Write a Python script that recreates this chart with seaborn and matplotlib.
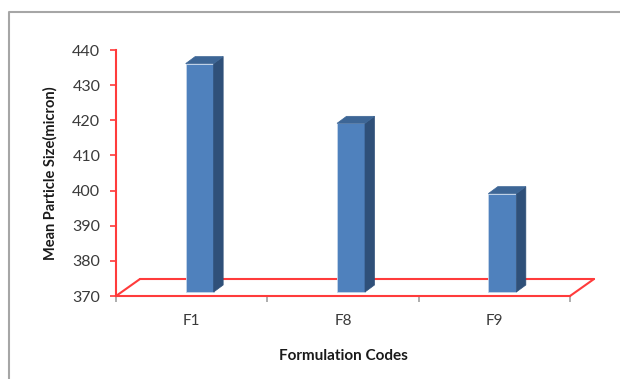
import numpy as np
import pandas as pd
import matplotlib
matplotlib.use("Agg")
import matplotlib.pyplot as plt
import matplotlib.transforms as mtransforms
from matplotlib.patches import Polygon
from matplotlib.lines import Line2D
import seaborn as sns

categories = ["F1", "F8", "F9"]
mean_size = [435, 418, 398]
y_ticks = [370, 380, 390, 400, 410, 420, 430, 440]
x_label = "Formulation Codes"
y_label = "Mean Particle Size(micron)"

sns.set_theme(style="white")
plt.rcParams['font.family'] = ['Lato', 'DejaVu Sans']

RED = "#FF3B3B"
FRONT = "#4F81BD"
SIDE = "#2F5079"
TOP = "#3D6696"
TXT = "#3a3a3a"

fig = plt.figure(figsize=(6.2, 3.79), dpi=100)
fig.patch.set_facecolor("white")
ax = fig.add_axes([116/620, 83/379, 454/620, 246/379])
ax.set_facecolor("white")

df = pd.DataFrame({"code": categories, "size": mean_size})
sns.barplot(data=df, x="code", y="size", ax=ax, width=0.185, color=FRONT,
            saturation=1, edgecolor="#C5D5EA", linewidth=0.6, zorder=3)

base = y_ticks[0]
ax.set_ylim(y_ticks[0], y_ticks[-1])
ax.set_xlim(-0.5, len(categories) - 0.5)
ax.set_yticks(y_ticks)
ax.set_xticks(range(len(categories)))
ax.set_xticklabels(categories)
ax.set_xticks(np.arange(-0.5, len(categories), 1.0), minor=True)
ax.grid(False)

# floor (3D base)
fdx, fdy = 24, 17
x0d, yd = ax.transData.transform((-0.5, base))
x1d, _ = ax.transData.transform((len(categories) - 0.5, base))
ident = mtransforms.IdentityTransform()
floor_lines = [
    ([x0d, x0d + fdx], [yd, yd + fdy]),
    ([x0d + fdx, x1d + fdx], [yd + fdy, yd + fdy]),
    ([x1d, x1d + fdx], [yd, yd + fdy]),
]
for xs, ys in floor_lines:
    ax.add_line(Line2D(xs, ys, color=RED, lw=1.5, transform=ident,
                       clip_on=False, zorder=1))

# bars: front faces shifted into the floor, plus side and top faces
bdx, bdy = 8, 4
ddx, ddy = 9.5, 7
off = mtransforms.offset_copy(ax.transData, fig=fig, x=bdx, y=bdy, units='dots')
for p in list(ax.patches):
    bx = p.get_x()
    bw = p.get_width()
    val = p.get_height()
    p.set_y(base)
    p.set_height(val - base)
    p.set_transform(off)
    p.set_clip_on(False)
    p.set_zorder(3)
    X0, Yb = ax.transData.transform((bx, base))
    X1, Yt = ax.transData.transform((bx + bw, val))
    X0 += bdx; X1 += bdx; Yb += bdy; Yt += bdy
    side = Polygon([(X1, Yb), (X1 + ddx, Yb + ddy), (X1 + ddx, Yt + ddy), (X1, Yt)],
                   closed=True, facecolor=SIDE, edgecolor=SIDE, lw=0.5,
                   transform=ident, clip_on=False, zorder=4)
    top = Polygon([(X0, Yt), (X0 + ddx, Yt + ddy), (X1 + ddx, Yt + ddy), (X1, Yt)],
                  closed=True, facecolor=TOP, edgecolor=TOP, lw=0.5,
                  transform=ident, clip_on=False, zorder=4)
    ax.add_patch(side)
    ax.add_patch(top)

# spines and ticks
for s in ["top", "right"]:
    ax.spines[s].set_visible(False)
ax.spines["left"].set_color(RED)
ax.spines["bottom"].set_color(RED)
ax.spines["left"].set_linewidth(1.5)
ax.spines["bottom"].set_linewidth(1.5)
ax.spines["left"].set_zorder(2)
ax.spines["bottom"].set_zorder(2)

ax.tick_params(axis="y", which="major", left=True, length=4.3, width=1.2,
               color=RED, pad=7, labelsize=11.5, labelcolor=TXT)
ax.tick_params(axis="x", which="major", bottom=False, length=0, pad=13,
               labelsize=11, labelcolor=TXT)
ax.tick_params(axis="x", which="minor", bottom=True, length=4, width=1.2,
               color="#A0A0A0")

ax.set_xlabel(x_label, fontsize=11, fontweight="bold", color="#1a1a1a")
ax.set_ylabel(y_label, fontsize=10.5, fontweight="bold", color="#1a1a1a")
ax.xaxis.set_label_coords(0.5, -0.215)
ax.yaxis.set_label_coords(-0.128, 0.5)

# chart area border
fig.add_artist(Line2D([9/620, 9/620, 1.0], [0.0, 1 - 12/379, 1 - 12/379],
                      color="#A6A6A6", lw=1.5, transform=fig.transFigure))

fig.savefig("out.png", dpi=100, facecolor="white")
